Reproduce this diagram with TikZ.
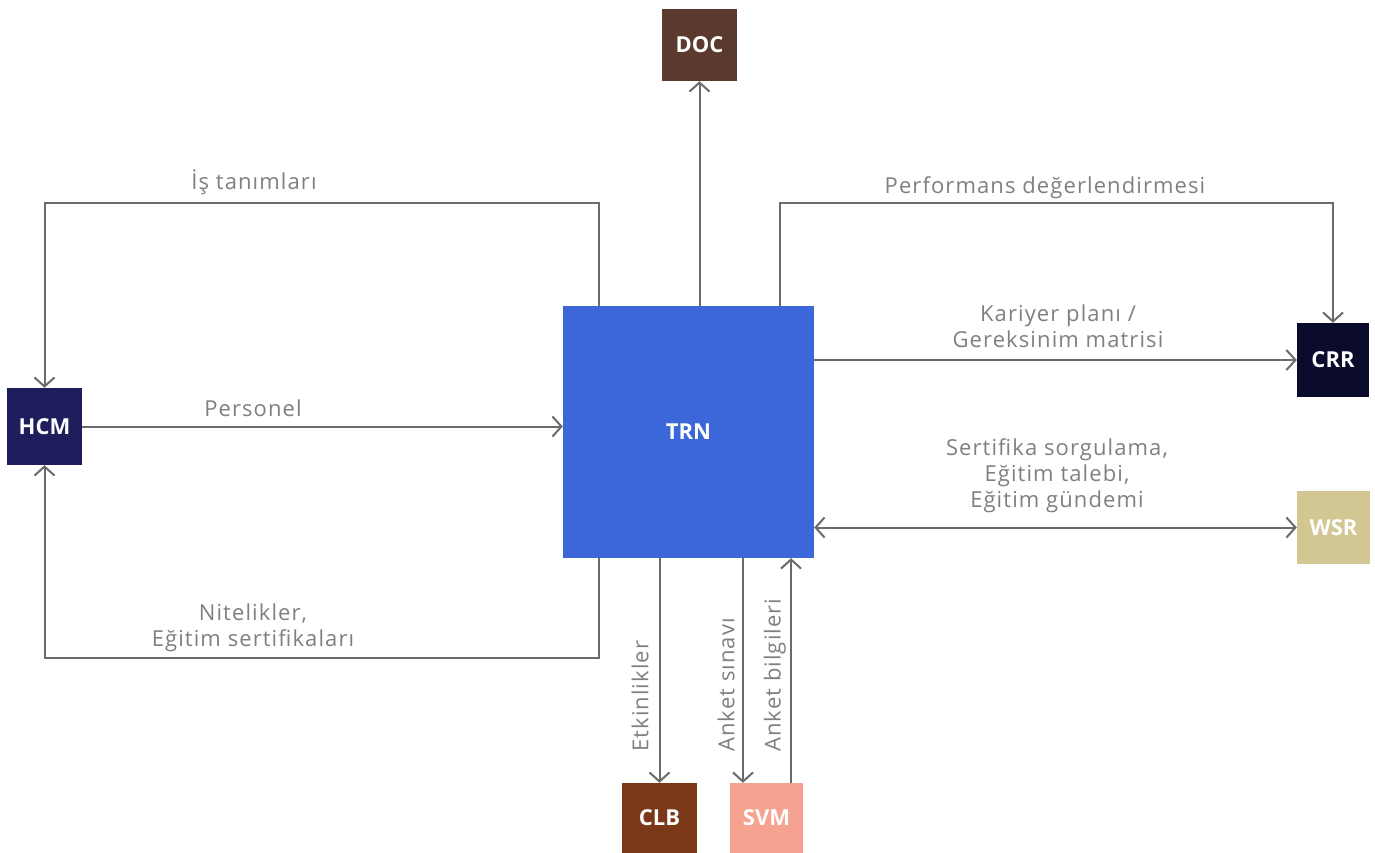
\documentclass[tikz,border=0pt]{standalone}
\usepackage{fontspec}
\setmainfont{Open Sans}
\newfontfamily\lblfont[LetterSpace=5]{Open Sans}
\usetikzlibrary{arrows.meta,calc}
\begin{document}
\begin{tikzpicture}[x=1pt,y=-1pt,
  box/.style={draw=none,inner sep=0pt,text=white,font=\fontsize{22}{26}\selectfont\bfseries},
  lbl/.style={text=black!50,font=\lblfont\fontsize{22}{26}\selectfont,align=center,inner sep=0pt},
  conn/.style={draw=black!58,line width=2pt},
  arr/.style={conn,-{Straight Barb[length=9pt,width=20pt,line width=2pt]}},
  arrb/.style={conn,{Straight Barb[length=9pt,width=20pt,line width=2pt]}-{Straight Barb[length=9pt,width=20pt,line width=2pt]}}
]
\definecolor{cdoc}{HTML}{5A3A2E}
\definecolor{chcm}{HTML}{1E1E5C}
\definecolor{ctrn}{HTML}{3B67D8}
\definecolor{ccrr}{HTML}{0B0B2C}
\definecolor{cwsr}{HTML}{D2C792}
\definecolor{cclb}{HTML}{7A3818}
\definecolor{csvm}{HTML}{F6A290}
\useasboundingbox[fill=white] (0,0) rectangle (1375,852);

\node[box,fill=cdoc,minimum width=75,minimum height=72] (DOC) at (699.5,45) {DOC};
\node[box,fill=chcm,minimum width=75,minimum height=77] (HCM) at (44.5,426.5) {HCM};
\node[box,fill=ctrn,minimum width=251,minimum height=252] (TRN) at (688.5,432) {TRN};
\node[box,fill=ccrr,minimum width=72,minimum height=74] (CRR) at (1333,360) {CRR};
\node[box,fill=cwsr,minimum width=73,minimum height=73] (WSR) at (1333.5,527.5) {WSR};
\node[box,fill=cclb,minimum width=75,minimum height=70] (CLB) at (659.5,818) {CLB};
\node[box,fill=csvm,minimum width=73,minimum height=70] (SVM) at (766.5,818) {SVM};

% connectors
\draw[arr] (TRN.north -| DOC.south) -- (DOC.south);
\draw[arr] ($(TRN.north west)+(36,0)$) -- ++(0,-103) -| (HCM.north);
\draw[arr] ($(TRN.south west)+(36,0)$) -- ++(0,100) -| (HCM.south);
\draw[arr] (HCM.east) -- (HCM.east -| TRN.west);
\draw[arr] ($(TRN.north east)+(-34,0)$) -- ++(0,-103) -| (CRR.north);
\draw[arr] (TRN.east |- CRR.west) -- (CRR.west);
\draw[arrb] (TRN.east |- WSR.west) -- (WSR.west);
\draw[arr] (CLB.north |- TRN.south) -- (CLB.north);
\draw[arr] ([xshift=-23.5pt]SVM.north |- TRN.south) -- ([xshift=-23.5pt]SVM.north);
\draw[arr] ([xshift=24.5pt]SVM.north) -- ([xshift=24.5pt]SVM.north |- TRN.south);

% labels
\node[lbl] (l1) at (254,182) {İş tanımları};
\node[lbl] (l2) at (253,408) {Personel};
\node[lbl] (l3) at (253,628) {Nitelikler,\\Eğitim sertifikaları};
\node[lbl] (l4) at (1045,188) {Performans değerlendirmesi};
\node[lbl] (l5) at (1058,326) {Kariyer planı /\\Gereksinim matrisi};
\node[lbl] (l6) at (1057,476) {Sertifika sorgulama,\\Eğitim talebi,\\Eğitim gündemi};
\node[lbl,rotate=90,anchor=west] (l7) at (640,752) {Etkinlikler};
\node[lbl,rotate=90,anchor=west] (l8) at (726,752) {Anket sınavı};
\node[lbl,rotate=90,anchor=west] (l9) at (775,752) {Anket bilgileri};
\end{tikzpicture}
\end{document}
